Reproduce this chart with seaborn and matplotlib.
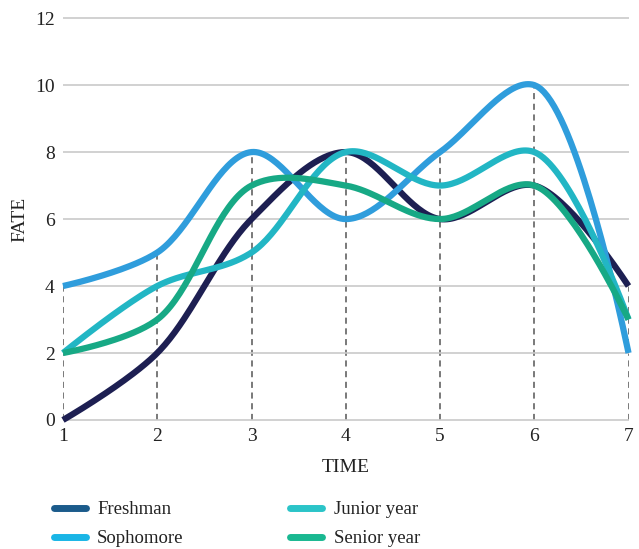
import numpy as np
import pandas as pd
import matplotlib
matplotlib.use("Agg")
import matplotlib.pyplot as plt
from matplotlib.lines import Line2D
import seaborn as sns

# Values per group at each time step
time = [1, 2, 3, 4, 5, 6, 7]
freshman = [0, 2, 6, 8, 6, 7, 4]
sophomore = [4, 5, 8, 6, 8, 10, 2]
junior_year = [2, 4, 5, 8, 7, 8, 3]
senior_year = [2, 3, 7, 7, 6, 7, 3]

series_names = ["Freshman", "Sophomore", "Junior year", "Senior year"]
series_values = [freshman, sophomore, junior_year, senior_year]
line_colors = ["#1d1f52", "#2f9ddc", "#22b6c4", "#17a985"]
legend_colors = ["#1b5b8b", "#19b5e6", "#2bc4c8", "#19b891"]
y_ticks = [0, 2, 4, 6, 8, 10, 12]

sns.set_style("white")
plt.rcParams["font.family"] = ["Liberation Serif", "DejaVu Serif"]

fig = plt.figure(figsize=(6.39, 5.49), dpi=100)
ax = fig.add_axes([0.0986, 0.235, 0.885, 0.732])
ax.set_xlim(1, 7)
ax.set_ylim(0, 12)


def catmull_rom(x, y, trans, alpha=0.5, n=40):
    """Centripetal Catmull-Rom curve (Bezier form), distances in display units."""
    P = trans.transform(np.column_stack([x, y]))
    P = np.vstack([P[0], P, P[-1]])  # repeat end points
    out = []
    for i in range(1, len(P) - 2):
        p0, p1, p2, p3 = P[i - 1], P[i], P[i + 1], P[i + 2]
        l01 = np.linalg.norm(p1 - p0)
        l12 = np.linalg.norm(p2 - p1)
        l23 = np.linalg.norm(p3 - p2)
        l01a, l12a, l23a = l01**alpha, l12**alpha, l23**alpha
        l01_2a, l12_2a, l23_2a = l01a**2, l12a**2, l23a**2
        c1 = p1.copy()
        c2 = p2.copy()
        if l01a > 1e-9:
            a = 2 * l01_2a + 3 * l01a * l12a + l12_2a
            m = 3 * l01a * (l01a + l12a)
            c1 = (p1 * a - p0 * l12_2a + p2 * l01_2a) / m
        if l23a > 1e-9:
            b = 2 * l23_2a + 3 * l23a * l12a + l12_2a
            m = 3 * l23a * (l23a + l12a)
            c2 = (p2 * b + p1 * l23_2a - p3 * l12_2a) / m
        t = np.linspace(0, 1, n, endpoint=(i == len(P) - 3))[:, None]
        seg = ((1 - t)**3 * p1 + 3 * (1 - t)**2 * t * c1
               + 3 * (1 - t) * t**2 * c2 + t**3 * p2)
        out.append(seg)
    pts = trans.inverted().transform(np.vstack(out))
    return pts[:, 0], pts[:, 1]


frames = []
for name, vals in zip(series_names, series_values):
    sx, sy = catmull_rom(time, vals, ax.transData)
    frames.append(pd.DataFrame({"TIME": sx, "FATE": sy, "group": name}))
df = pd.concat(frames, ignore_index=True)

for yv in y_ticks:
    ax.axhline(yv, color="#c9c9c9", lw=1.2, zorder=0)

# Dashed drop lines up to the highest value at each time step
tops = np.max(np.array(series_values), axis=0)
ax.vlines(time, 0, tops, colors="#555555", linestyles=(0, (4, 3)), lw=1.1, zorder=1)

sns.lineplot(data=df, x="TIME", y="FATE", hue="group", hue_order=series_names,
             palette=dict(zip(series_names, line_colors)), lw=4.5, ax=ax,
             legend=False, estimator=None, sort=False)
for ln in ax.lines:
    ln.set_clip_on(False)
    ln.set_solid_capstyle("butt")
    ln.set_zorder(3)

ax.set_xlim(1, 7)
ax.set_ylim(0, 12)
ax.set_xticks(time)
ax.set_yticks(y_ticks)
ax.tick_params(axis="both", length=0, labelsize=14, colors="#222222")
ax.tick_params(axis="x", pad=6)
ax.tick_params(axis="y", pad=6)
for s in ax.spines.values():
    s.set_visible(False)
ax.set_xlabel("TIME", fontsize=14, color="#222222", labelpad=10)
ax.set_ylabel("FATE", fontsize=14, color="#222222", labelpad=5)

handles = [Line2D([0], [0], color=c, lw=5, solid_capstyle="round") for c in legend_colors]
fig.legend(handles, series_names, loc="lower left", bbox_to_anchor=(0.058, -0.028),
           ncol=2, frameon=False, fontsize=13.5, handlelength=1.7, handletextpad=0.6,
           columnspacing=5.7, labelspacing=0.65, labelcolor="#222222")

fig.savefig("out.png", dpi=100)
